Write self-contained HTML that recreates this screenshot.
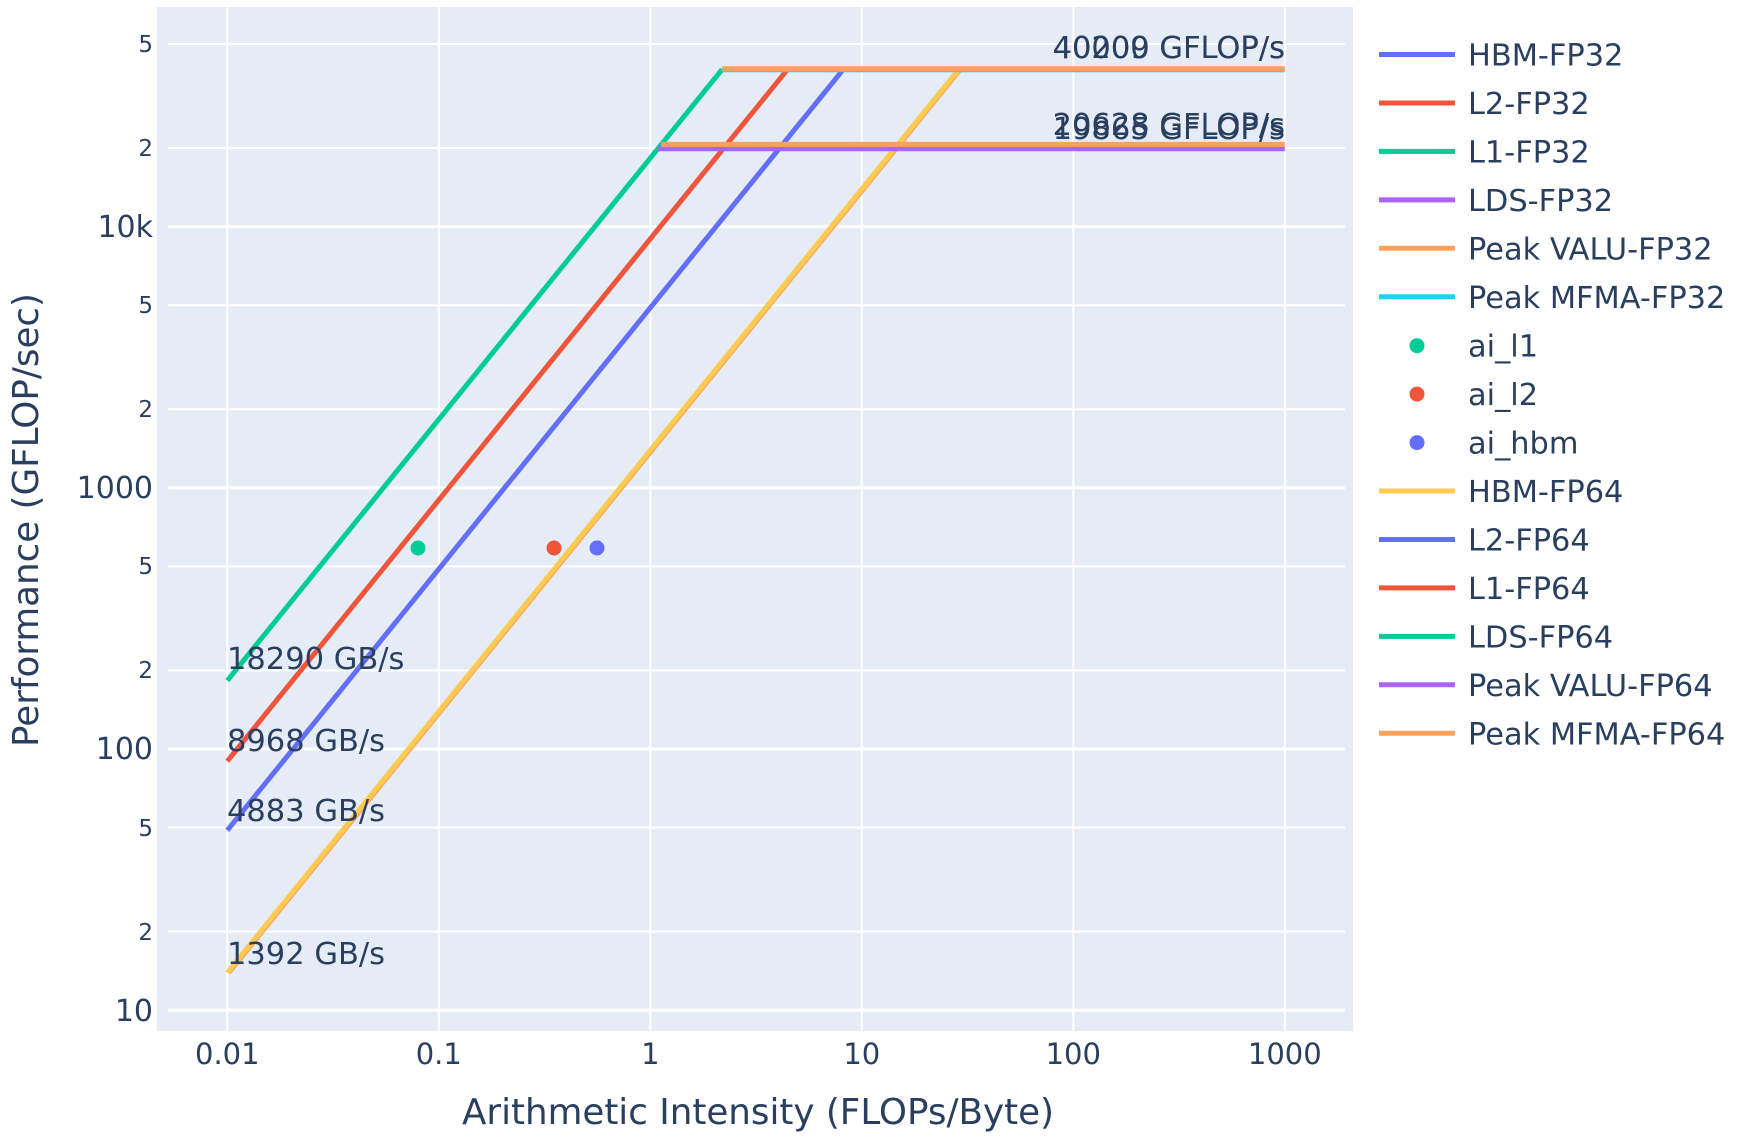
<!DOCTYPE html>
<html><head><meta charset="utf-8"><style>
html,body{margin:0;padding:0;background:#fff}
svg{display:block}
text{font-family:"DejaVu Sans","Liberation Sans",sans-serif;fill:#2a3f5f}
</style></head><body>
<svg width="1738" height="1141" viewBox="0 0 1738 1141" xmlns="http://www.w3.org/2000/svg">
<rect x="157" y="7" width="1196" height="1024" fill="#E5ECF6"/>
<g stroke="#fff" stroke-width="2">
<line x1="227.3" y1="7" x2="227.3" y2="1031"/><line x1="438.8" y1="7" x2="438.8" y2="1031"/>
<line x1="650.3" y1="7" x2="650.3" y2="1031"/><line x1="861.8" y1="7" x2="861.8" y2="1031"/>
<line x1="1073.3" y1="7" x2="1073.3" y2="1031"/><line x1="1284.8" y1="7" x2="1284.8" y2="1031"/>
<line x1="168" y1="1010.2" x2="1345" y2="1010.2" stroke-width="3"/>
<line x1="168" y1="931.6" x2="1345" y2="931.6"/><line x1="168" y1="827.6" x2="1345" y2="827.6"/>
<line x1="168" y1="749" x2="1345" y2="749" stroke-width="3"/>
<line x1="168" y1="670.4" x2="1345" y2="670.4"/><line x1="168" y1="566.4" x2="1345" y2="566.4"/>
<line x1="168" y1="487.8" x2="1345" y2="487.8" stroke-width="3"/>
<line x1="168" y1="409.2" x2="1345" y2="409.2"/><line x1="168" y1="305.2" x2="1345" y2="305.2"/>
<line x1="168" y1="226.6" x2="1345" y2="226.6" stroke-width="3"/>
<line x1="168" y1="148" x2="1345" y2="148"/><line x1="168" y1="44" x2="1345" y2="44"/>
</g>
<g fill="none" stroke-width="5">
<polyline points="228.8,972.7 960.3,69.3" stroke="#FFA15A"/>
<polyline points="227.3,972.7 958.8,69.3" stroke="#FECB52"/>
<polyline points="227.3,830.3 843.4,69.3" stroke="#636efa"/>
<polyline points="227.3,761.2 787.6,69.3" stroke="#EF553B"/>
<polyline points="227.3,680.6 722.2,69.3" stroke="#00cc96"/>
<line x1="657.9" y1="148.7" x2="1284.8" y2="148.7" stroke="#ab63fa"/>
<line x1="661.3" y1="144.4" x2="1284.8" y2="144.4" stroke="#FFA15A"/>
<line x1="722.2" y1="69.8" x2="1284.8" y2="69.8" stroke="#19d3f3"/>
<line x1="722.2" y1="68.8" x2="1284.8" y2="68.8" stroke="#FFA15A"/>
</g>
<circle cx="418" cy="548" r="7.5" fill="#00cc96"/>
<circle cx="554" cy="548" r="7.5" fill="#EF553B"/>
<circle cx="597" cy="548" r="7.5" fill="#636efa"/>
<g font-size="30.5">
<text x="227" y="669">18290 GB/s</text>
<text x="227" y="751">8968 GB/s</text>
<text x="227" y="821">4883 GB/s</text>
<text x="227" y="964">1392 GB/s</text>
<g text-anchor="end">
<text x="1285" y="58">40209 GFLOP/s</text><text x="1285" y="58">40000 GFLOP/s</text>
<text x="1285" y="135">20628 GFLOP/s</text><text x="1285" y="139">19865 GFLOP/s</text>
</g></g>
<g text-anchor="end">
<g font-size="30">
<text x="153" y="1021">10</text><text x="153" y="759">100</text>
<text x="153" y="498">1000</text><text x="153" y="237">10k</text>
</g>
<g font-size="23">
<text x="153" y="940">2</text><text x="153" y="836">5</text>
<text x="153" y="678">2</text><text x="153" y="574">5</text>
<text x="153" y="417">2</text><text x="153" y="313">5</text>
<text x="153" y="156">2</text><text x="153" y="52">5</text>
</g></g>
<g font-size="29" text-anchor="middle">
<text x="227.3" y="1064">0.01</text><text x="438.8" y="1064">0.1</text>
<text x="650.3" y="1064">1</text><text x="861.8" y="1064">10</text>
<text x="1073.3" y="1064">100</text><text x="1284.8" y="1064">1000</text>
</g>
<text x="758" y="1124" font-size="35.7" text-anchor="middle">Arithmetic Intensity (FLOPs/Byte)</text>
<text transform="translate(38,520) rotate(-90)" font-size="35.7" text-anchor="middle">Performance (GFLOP/sec)</text>
<g stroke-width="5">
<line x1="1379" y1="54.5" x2="1455" y2="54.5" stroke="#636efa"/>
<line x1="1379" y1="103" x2="1455" y2="103" stroke="#EF553B"/>
<line x1="1379" y1="151.4" x2="1455" y2="151.4" stroke="#00cc96"/>
<line x1="1379" y1="199.9" x2="1455" y2="199.9" stroke="#ab63fa"/>
<line x1="1379" y1="248.3" x2="1455" y2="248.3" stroke="#FFA15A"/>
<line x1="1379" y1="296.8" x2="1455" y2="296.8" stroke="#19d3f3"/>
<line x1="1379" y1="491" x2="1455" y2="491" stroke="#FECB52"/>
<line x1="1379" y1="539.5" x2="1455" y2="539.5" stroke="#636efa"/>
<line x1="1379" y1="587.9" x2="1455" y2="587.9" stroke="#EF553B"/>
<line x1="1379" y1="636.4" x2="1455" y2="636.4" stroke="#00cc96"/>
<line x1="1379" y1="684.8" x2="1455" y2="684.8" stroke="#ab63fa"/>
<line x1="1379" y1="733.3" x2="1455" y2="733.3" stroke="#FFA15A"/>
</g>
<circle cx="1417" cy="345.7" r="7.5" fill="#00cc96"/>
<circle cx="1417" cy="394.1" r="7.5" fill="#EF553B"/>
<circle cx="1417" cy="442.6" r="7.5" fill="#636efa"/>
<g font-size="30.4">
<text x="1468" y="65.5">HBM-FP32</text>
<text x="1468" y="114">L2-FP32</text>
<text x="1468" y="162.4">L1-FP32</text>
<text x="1468" y="210.9">LDS-FP32</text>
<text x="1468" y="259.3">Peak VALU-FP32</text>
<text x="1468" y="307.8">Peak MFMA-FP32</text>
<text x="1468" y="356.7">ai_l1</text>
<text x="1468" y="405.1">ai_l2</text>
<text x="1468" y="453.6">ai_hbm</text>
<text x="1468" y="502">HBM-FP64</text>
<text x="1468" y="550.5">L2-FP64</text>
<text x="1468" y="598.9">L1-FP64</text>
<text x="1468" y="647.4">LDS-FP64</text>
<text x="1468" y="695.8">Peak VALU-FP64</text>
<text x="1468" y="744.3">Peak MFMA-FP64</text>
</g>
</svg>
</body></html>
